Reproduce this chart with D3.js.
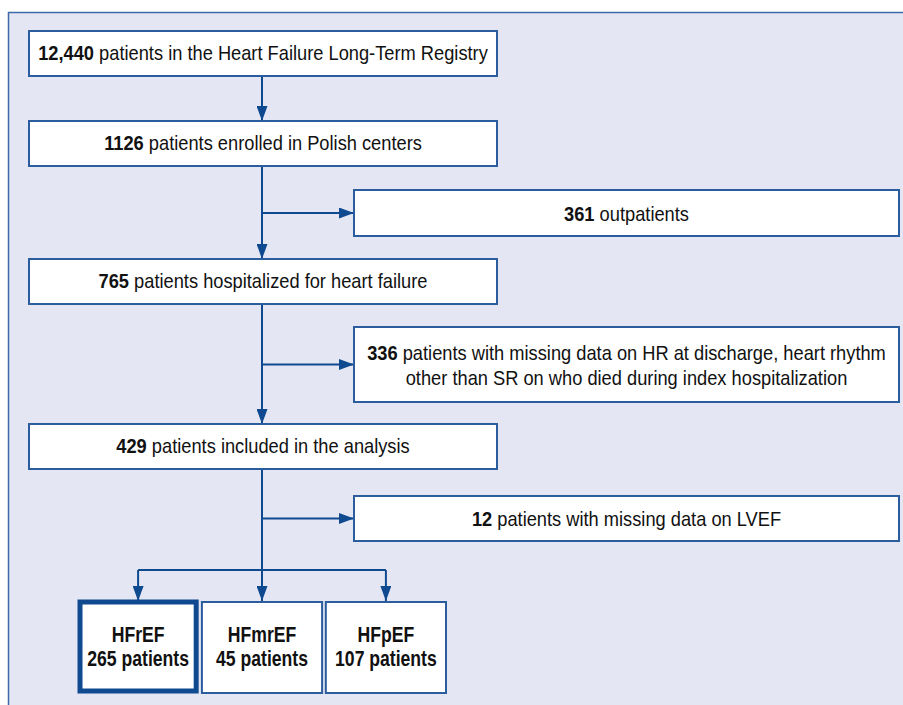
<!DOCTYPE html>
<html>
<head>
<meta charset="utf-8">
<script src="https://cdn.jsdelivr.net/npm/d3@7"></script>
<style>
  body { margin: 0; background: #fff; }
  svg text { font-family: "Liberation Sans", Arial, sans-serif; fill: #111; }
</style>
</head>
<body>
<div id="canvas"></div>
<script>
// flowchart content
var mainCounts = ['12,440', '1126', '765', '429'];
var mainLabels = [
  ' patients in the Heart Failure Long-Term Registry',
  ' patients enrolled in Polish centers',
  ' patients hospitalized for heart failure',
  ' patients included in the analysis'
];
var sideCounts = ['361', '336', '12'];
var sideLabels = [
  [' outpatients'],
  [' patients with missing data on HR at discharge, heart rhythm', 'other than SR on who died during index hospitalization'],
  [' patients with missing data on LVEF']
];
var groupNames = ['HFrEF', 'HFmrEF', 'HFpEF'];
var groupCounts = [265, 45, 107];

var W = 903, H = 705;
var blue = '#2a5c9e', arrowBlue = '#0f4a90';
var narrow = 0.87, narrowBold = 0.8;

var svg = d3.select('#canvas').append('svg')
  .attr('width', W).attr('height', H);

var defs = svg.append('defs');
defs.append('marker').attr('id', 'arr')
  .attr('viewBox', '0 0 15 11').attr('refX', 15).attr('refY', 5.5)
  .attr('markerWidth', 15).attr('markerHeight', 11)
  .attr('markerUnits', 'userSpaceOnUse').attr('orient', 'auto')
  .append('path').attr('d', 'M0,0L15,5.5L0,11Z').attr('fill', arrowBlue);

// panel
svg.append('rect').attr('x', 8.5).attr('y', 12.5).attr('width', W).attr('height', H)
  .attr('fill', '#e4e7f3').attr('stroke', '#3d6aa6').attr('stroke-width', 1.5);

// condensed text helper
function label(sel, cx, y, size, sx) {
  return sel.append('text')
    .attr('transform', 'translate(' + cx + ',' + y + ') scale(' + sx + ',1)')
    .attr('text-anchor', 'middle').attr('font-size', size);
}

// layout
var mainY = d3.scaleOrdinal().domain(d3.range(4)).range([31, 121, 259, 424]);
var sideY = d3.scaleOrdinal().domain(d3.range(3)).range([190, 327, 496]);
var sideH = [46, 75, 45];
var mainX0 = 29, mainX1 = 497, sideX0 = 354, sideX1 = 899, boxH = 45;
var spineX = 262;

var g = svg.append('g');

// spine
g.append('line').attr('x1', spineX).attr('x2', spineX)
  .attr('y1', mainY(0) + boxH).attr('y2', 570)
  .attr('stroke', arrowBlue).attr('stroke-width', 2);
d3.range(1, 4).forEach(function(i) {
  g.append('line').attr('x1', spineX).attr('x2', spineX)
    .attr('y1', mainY(i) - 18).attr('y2', mainY(i))
    .attr('stroke', arrowBlue).attr('stroke-width', 2).attr('marker-end', 'url(#arr)');
});
sideCounts.forEach(function(c, i) {
  var cy = sideY(i) + sideH[i] / 2;
  g.append('line').attr('x1', spineX).attr('x2', sideX0)
    .attr('y1', cy).attr('y2', cy)
    .attr('stroke', arrowBlue).attr('stroke-width', 2).attr('marker-end', 'url(#arr)');
});

// main boxes
mainCounts.forEach(function(c, i) {
  var y = mainY(i);
  g.append('rect').attr('x', mainX0).attr('y', y).attr('width', mainX1 - mainX0).attr('height', boxH)
    .attr('fill', '#fff').attr('stroke', blue).attr('stroke-width', 2);
  var t = label(g, (mainX0 + mainX1) / 2, y + 29, 21, narrow);
  t.append('tspan').attr('font-weight', 'bold').text(c);
  t.append('tspan').text(mainLabels[i]);
});

// side boxes
sideCounts.forEach(function(c, i) {
  var y = sideY(i), h = sideH[i];
  g.append('rect').attr('x', sideX0).attr('y', y).attr('width', sideX1 - sideX0).attr('height', h)
    .attr('fill', '#fff').attr('stroke', blue).attr('stroke-width', 2);
  var lines = sideLabels[i];
  var y0 = y + h / 2 + 7.5 - (lines.length - 1) * 12.5;
  lines.forEach(function(l, j) {
    var t = label(g, (sideX0 + sideX1) / 2, y0 + j * 25, 21, narrow);
    if (j === 0) t.append('tspan').attr('font-weight', 'bold').text(c);
    t.append('tspan').text(l);
  });
});

// bottom split
var gx = d3.scaleBand().domain(groupNames).range([78, 446]).paddingInner(0.03);
var splitY = 570;
g.append('line').attr('x1', gx(groupNames[0]) + gx.bandwidth() / 2)
  .attr('x2', gx(groupNames[2]) + gx.bandwidth() / 2)
  .attr('y1', splitY).attr('y2', splitY)
  .attr('stroke', arrowBlue).attr('stroke-width', 2);

groupNames.forEach(function(n, i) {
  var x = gx(n), cx = x + gx.bandwidth() / 2;
  var cxArrow = i === 1 ? spineX : cx;
  g.append('line').attr('x1', cxArrow).attr('x2', cxArrow).attr('y1', splitY).attr('y2', 601)
    .attr('stroke', arrowBlue).attr('stroke-width', 2).attr('marker-end', 'url(#arr)');
  var thick = i === 0;
  g.append('rect').attr('x', x + (thick ? 2 : 0)).attr('y', 602)
    .attr('width', gx.bandwidth() - (thick ? 4 : 0)).attr('height', thick ? 89 : 91)
    .attr('fill', '#fff').attr('stroke', thick ? '#0f4a90' : blue).attr('stroke-width', thick ? 5 : 2);
  label(g, cx, 642, 22, narrowBold).attr('font-weight', 'bold').text(n);
  label(g, cx, 666, 22, narrowBold).attr('font-weight', 'bold').text(groupCounts[i] + ' patients');
});
</script>
</body>
</html>
